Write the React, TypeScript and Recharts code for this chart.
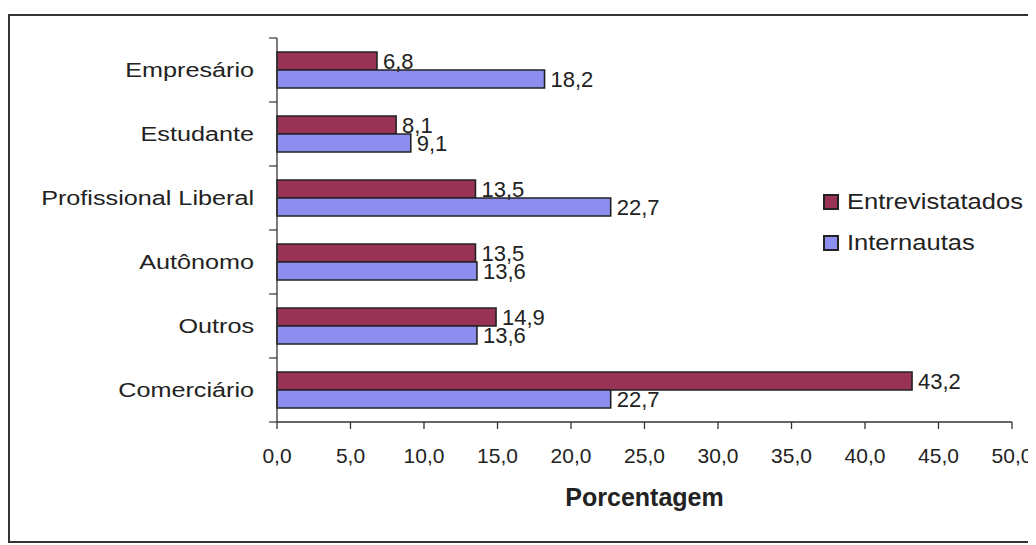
import React from 'react';
import { BarChart, Bar, XAxis, YAxis, Legend, LabelList } from 'recharts';

const categorias = ['Empresário', 'Estudante', 'Profissional Liberal', 'Autônomo', 'Outros', 'Comerciário'];
const entrevistados = [6.8, 8.1, 13.5, 13.5, 14.9, 43.2];
const internautas = [18.2, 9.1, 22.7, 13.6, 13.6, 22.7];
const xTicks = [0, 5, 10, 15, 20, 25, 30, 35, 40, 45, 50];

const data = categorias.map((nome, i) => ({
  nome,
  entrevistados: entrevistados[i],
  internautas: internautas[i],
}));

const VERMELHO = '#993355';
const AZUL = '#8e8ef0';
const FONTE = '"Liberation Sans", Arial, sans-serif';
const PLOT_H = 384;

const fmt = (v: any) => Number(v).toFixed(1).replace('.', ',');

// category labels centred on the band, tick marks on the band edges (Excel style)
const CategoryTick = (props: any) => {
  const { x, y, payload, index } = props;
  const band = PLOT_H / categorias.length;
  return (
    <g>
      <line x1={x} x2={x + 8} y1={y - band / 2} y2={y - band / 2} stroke="#333" strokeWidth={1.2} />
      {index === categorias.length - 1 && (
        <line x1={x} x2={x + 8} y1={y + band / 2} y2={y + band / 2} stroke="#333" strokeWidth={1.2} />
      )}
      <text
        transform={`translate(${x - 15},${y + 7}) scale(1.2,1)`}
        textAnchor="end"
        fontSize={21}
        fill="#222"
        fontFamily={FONTE}
      >
        {payload.value}
      </text>
    </g>
  );
};

const LegendBox = () => (
  <div style={{ fontFamily: FONTE, fontSize: 22, color: '#222' }}>
    {[
      { nome: 'Entrevistatados', cor: VERMELHO },
      { nome: 'Internautas', cor: AZUL },
    ].map((it) => (
      <div key={it.nome} style={{ display: 'flex', alignItems: 'center', height: 41, whiteSpace: 'nowrap' }}>
        <span
          style={{
            display: 'inline-block',
            width: 12,
            height: 12,
            background: it.cor,
            border: '2px solid #222',
            marginRight: 8,
          }}
        />
        <span style={{ display: 'inline-block', transform: 'scaleX(1.16)', transformOrigin: 'left center' }}>
          {it.nome}
        </span>
      </div>
    ))}
  </div>
);

export default function App() {
  return (
    <div
      style={{
        marginTop: 6,
        width: 1020,
        height: 525,
        border: '2px solid #333',
        background: '#fff',
      }}
    >
      <BarChart
        width={1020}
        height={525}
        data={data}
        layout="vertical"
        barGap={0}
        barSize={18}
        margin={{ top: 22, right: 18, bottom: 19, left: 10 }}
      >
        <XAxis
          type="number"
          domain={[0, 50]}
          ticks={xTicks}
          interval={0}
          tickFormatter={fmt}
          height={100}
          stroke="#333"
          strokeWidth={1.3}
          tickSize={7}
          tickMargin={19}
          tick={{ fontSize: 21, fill: '#222', fontFamily: FONTE }}
          label={{
            value: 'Porcentagem',
            position: 'insideBottom',
            offset: 16,
            style: { fontSize: 25, fontWeight: 'bold', fill: '#222', fontFamily: FONTE },
          }}
        />
        <YAxis
          type="category"
          dataKey="nome"
          width={257}
          stroke="#333"
          strokeWidth={1.3}
          tickLine={false}
          tickSize={8}
          tickMargin={0}
          tick={<CategoryTick />}
        />
        <Legend
          layout="vertical"
          align="center"
          verticalAlign="middle"
          content={<LegendBox />}
          wrapperStyle={{ left: 813, top: 165, width: 205 }}
        />
        <Bar dataKey="entrevistados" name="Entrevistatados" fill={VERMELHO} stroke="#222" strokeWidth={1.6} isAnimationActive={false}>
          <LabelList dataKey="entrevistados" position="right" offset={6} formatter={fmt} style={{ fontSize: 22, fill: '#222', fontFamily: FONTE }} />
        </Bar>
        <Bar dataKey="internautas" name="Internautas" fill={AZUL} stroke="#222" strokeWidth={1.6} isAnimationActive={false}>
          <LabelList dataKey="internautas" position="right" offset={6} formatter={fmt} style={{ fontSize: 22, fill: '#222', fontFamily: FONTE }} />
        </Bar>
      </BarChart>
    </div>
  );
}
